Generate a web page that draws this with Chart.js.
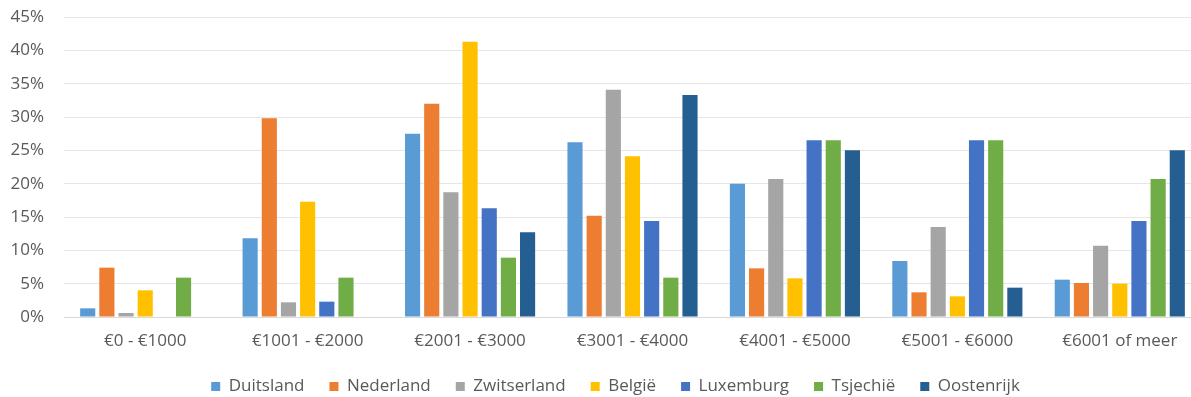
<!DOCTYPE html>
<html>
<head>
<meta charset="utf-8">
<script src="https://cdn.jsdelivr.net/npm/chart.js@4"></script>
<style>
  html, body { margin: 0; padding: 0; background: #fff; overflow: hidden; }
  #wrap { position: relative; width: 1231px; height: 405px; }
</style>
</head>
<body>
<div id="wrap"><canvas id="chart"></canvas></div>
<script>
// Income brackets (x axis)
const categories = ['€0 - €1000', '€1001 - €2000', '€2001 - €3000', '€3001 - €4000', '€4001 - €5000', '€5001 - €6000', '€6001 of meer'];

// Share per country, in percent
const duitsland   = [1.3, 11.8, 27.5, 26.2, 20.0, 8.4, 5.6];
const nederland   = [7.4, 29.8, 32.0, 15.2, 7.3, 3.7, 5.1];
const zwitserland = [0.6, 2.2, 18.7, 34.1, 20.7, 13.5, 10.7];
const belgie      = [4.0, 17.3, 41.3, 24.1, 5.8, 3.1, 5.0];
const luxemburg   = [0, 2.3, 16.3, 14.4, 26.5, 26.5, 14.4];
const tsjechie    = [5.9, 5.9, 8.9, 5.9, 26.5, 26.5, 20.7];
const oostenrijk  = [0, 0, 12.7, 33.3, 25.0, 4.4, 25.0];

const countries = ['Duitsland', 'Nederland', 'Zwitserland', 'België', 'Luxemburg', 'Tsjechië', 'Oostenrijk'];
const colors = ['#5B9BD5', '#ED7D31', '#A5A5A5', '#FFC000', '#4472C4', '#70AD47', '#255E91'];
const series = [duitsland, nederland, zwitserland, belgie, luxemburg, tsjechie, oostenrijk];

const textColor = '#595959';
const fontFamily = '"Open Sans", "Noto Sans", sans-serif';

const datasets = series.map((values, i) => ({
  label: countries[i],
  data: values,
  backgroundColor: colors[i],
  borderWidth: 0,
  categoryPercentage: 0.826,
  barPercentage: 0.79
}));

new Chart(document.getElementById('chart'), {
  type: 'bar',
  data: { labels: categories, datasets: datasets },
  options: {
    responsive: true,
    maintainAspectRatio: false,
    animation: false,
    layout: { padding: { top: 17, left: 0, right: 0, bottom: 0 } },
    scales: {
      x: {
        grid: { display: false, drawTicks: false },
        border: { display: false },
        ticks: {
          color: textColor,
          font: { family: fontFamily, size: 17 },
          padding: 14,
          maxRotation: 0
        },
        afterFit: (scale) => { scale.height = 36; }
      },
      y: {
        min: 0,
        max: 45,
        grid: {
          color: (ctx) => ctx.tick && ctx.tick.value === 0 ? '#D9D9D9' : '#E6E6E6',
          lineWidth: 1,
          drawTicks: false
        },
        border: { display: false },
        ticks: {
          stepSize: 5,
          color: textColor,
          font: { family: fontFamily, size: 17 },
          padding: 20,
          callback: (v) => v + '%'
        },
        afterFit: (scale) => {
          scale.width = 64;
          scale.paddingTop = 0;
          scale.paddingBottom = 0;
        }
      },
      // empty right axis, only reserves space so the plot ends where the reference does
      yRight: {
        position: 'right',
        grid: { display: false, drawTicks: false },
        border: { display: false },
        ticks: { display: false },
        afterFit: (scale) => {
          scale.width = 30;
          scale.paddingTop = 0;
          scale.paddingBottom = 0;
        }
      }
    },
    plugins: {
      legend: {
        position: 'bottom',
        labels: {
          color: textColor,
          font: { family: fontFamily, size: 17 },
          boxWidth: 9,
          boxHeight: 9,
          padding: 25
        }
      },
      tooltip: { enabled: false }
    }
  }
});
</script>
</body>
</html>
